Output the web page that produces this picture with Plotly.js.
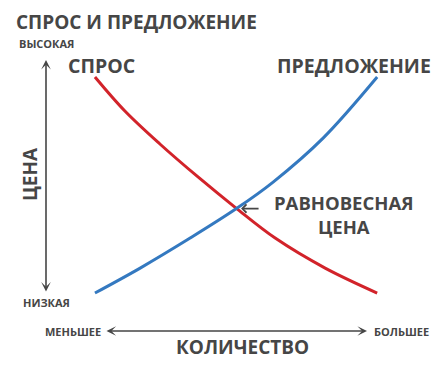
<!DOCTYPE html>
<html><head><meta charset="utf-8">
<script src="https://cdn.plot.ly/plotly-3.0.1.min.js"></script>
<style>html,body{margin:0;padding:0;background:#fff}#c{width:444px;height:369px}</style>
</head><body><div id="c"></div>
<script>
// Demand curve (quantity, price)
const demandQ = [1.44, 2.32, 3.35, 4.47, 5.59, 6.74, 8.21, 9.74];
const demandP = [9.44, 8.17, 6.94, 5.71, 4.55, 3.43, 2.31, 1.38];
// Supply curve (quantity, price)
const supplyQ = [1.44, 2.77, 4.24, 5.59, 6.68, 8.15, 9.74];
const supplyP = [1.38, 2.31, 3.43, 4.52, 5.52, 7.16, 9.44];
// Equilibrium point
const eqQ = 5.59, eqP = 4.53;

const titleText = "СПРОС И ПРЕДЛОЖЕНИЕ";
const demandLabel = "СПРОС";
const supplyLabel = "ПРЕДЛОЖЕНИЕ";
const yHigh = "ВЫСОКАЯ", yLow = "НИЗКАЯ", yName = "ЦЕНА";
const xLow = "МЕНЬШЕЕ", xHigh = "БОЛЬШЕЕ", xName = "КОЛИЧЕСТВО";
const eqLabel = "РАВНОВЕСНАЯ<br>ЦЕНА";

const W = 444, H = 369;
const PX = x => x / W, PY = y => 1 - y / H;
const ink = "#464646";
const F = (s) => ({family: "Open Sans, sans-serif", size: s, color: ink, weight: 700});

const traces = [
  {x: demandQ, y: demandP, mode: "lines", line: {color: "#d2232a", width: 3, shape: "spline"}, hoverinfo: "skip"},
  {x: supplyQ, y: supplyP, mode: "lines", line: {color: "#3479c0", width: 3, shape: "spline"}, hoverinfo: "skip"}
];

function txt(t, x, y, size, xa, extra) {
  return Object.assign({text: t, xref: "paper", yref: "paper", x: PX(x), y: PY(y), xanchor: xa || "center", yanchor: "middle", showarrow: false, font: F(size)}, extra || {});
}
function arr(hx, hy, ax, ay, both, head) {
  return {text: "", xref: "paper", yref: "paper", x: PX(hx), y: PY(hy), ax: ax, ay: ay, showarrow: true,
    arrowhead: head, startarrowhead: head, arrowside: both ? "end+start" : "end", arrowwidth: 1.6, arrowsize: 1, startarrowsize: 1,
    arrowcolor: ink, standoff: 0, startstandoff: 0};
}

const annotations = [
  txt(titleText, 14, 22, 19, "left"),
  txt(yHigh, 17, 44, 11, "left"),
  txt(yLow, 46, 302, 11, "center"),
  txt(yName, 30, 174, 19, "center", {textangle: -90}),
  txt(demandLabel, 66, 66, 19.5, "left"),
  txt(supplyLabel, 275, 66, 19.5, "left"),
  txt(xLow, 43, 331, 11, "left"),
  txt(xHigh, 431, 331, 11, "right"),
  txt(xName, 243, 347, 19, "center"),
  txt(eqLabel, 344, 214, 18.5, "center", {align: "center"}),
  arr(46, 60, 0, 233, true, 3),
  arr(367, 331, -262, 0, true, 3),
  {text: "", xref: "x", yref: "y", x: eqQ, y: eqP, ax: 24, ay: 0, showarrow: true, arrowhead: 4, arrowwidth: 1.6, arrowcolor: ink, standoff: 5}
];

const x0 = 46, sx = 34, y0 = 330, sy = 26.8;
const layout = {
  width: W, height: H, margin: {l: 0, r: 0, t: 0, b: 0},
  paper_bgcolor: "#fff", plot_bgcolor: "#fff", showlegend: false,
  xaxis: {range: [-x0 / sx, (W - x0) / sx], visible: false, fixedrange: true},
  yaxis: {range: [(y0 - H) / sy, y0 / sy], visible: false, fixedrange: true},
  annotations: annotations
};
Plotly.newPlot("c", traces, layout, {staticPlot: true});
</script></body></html>
